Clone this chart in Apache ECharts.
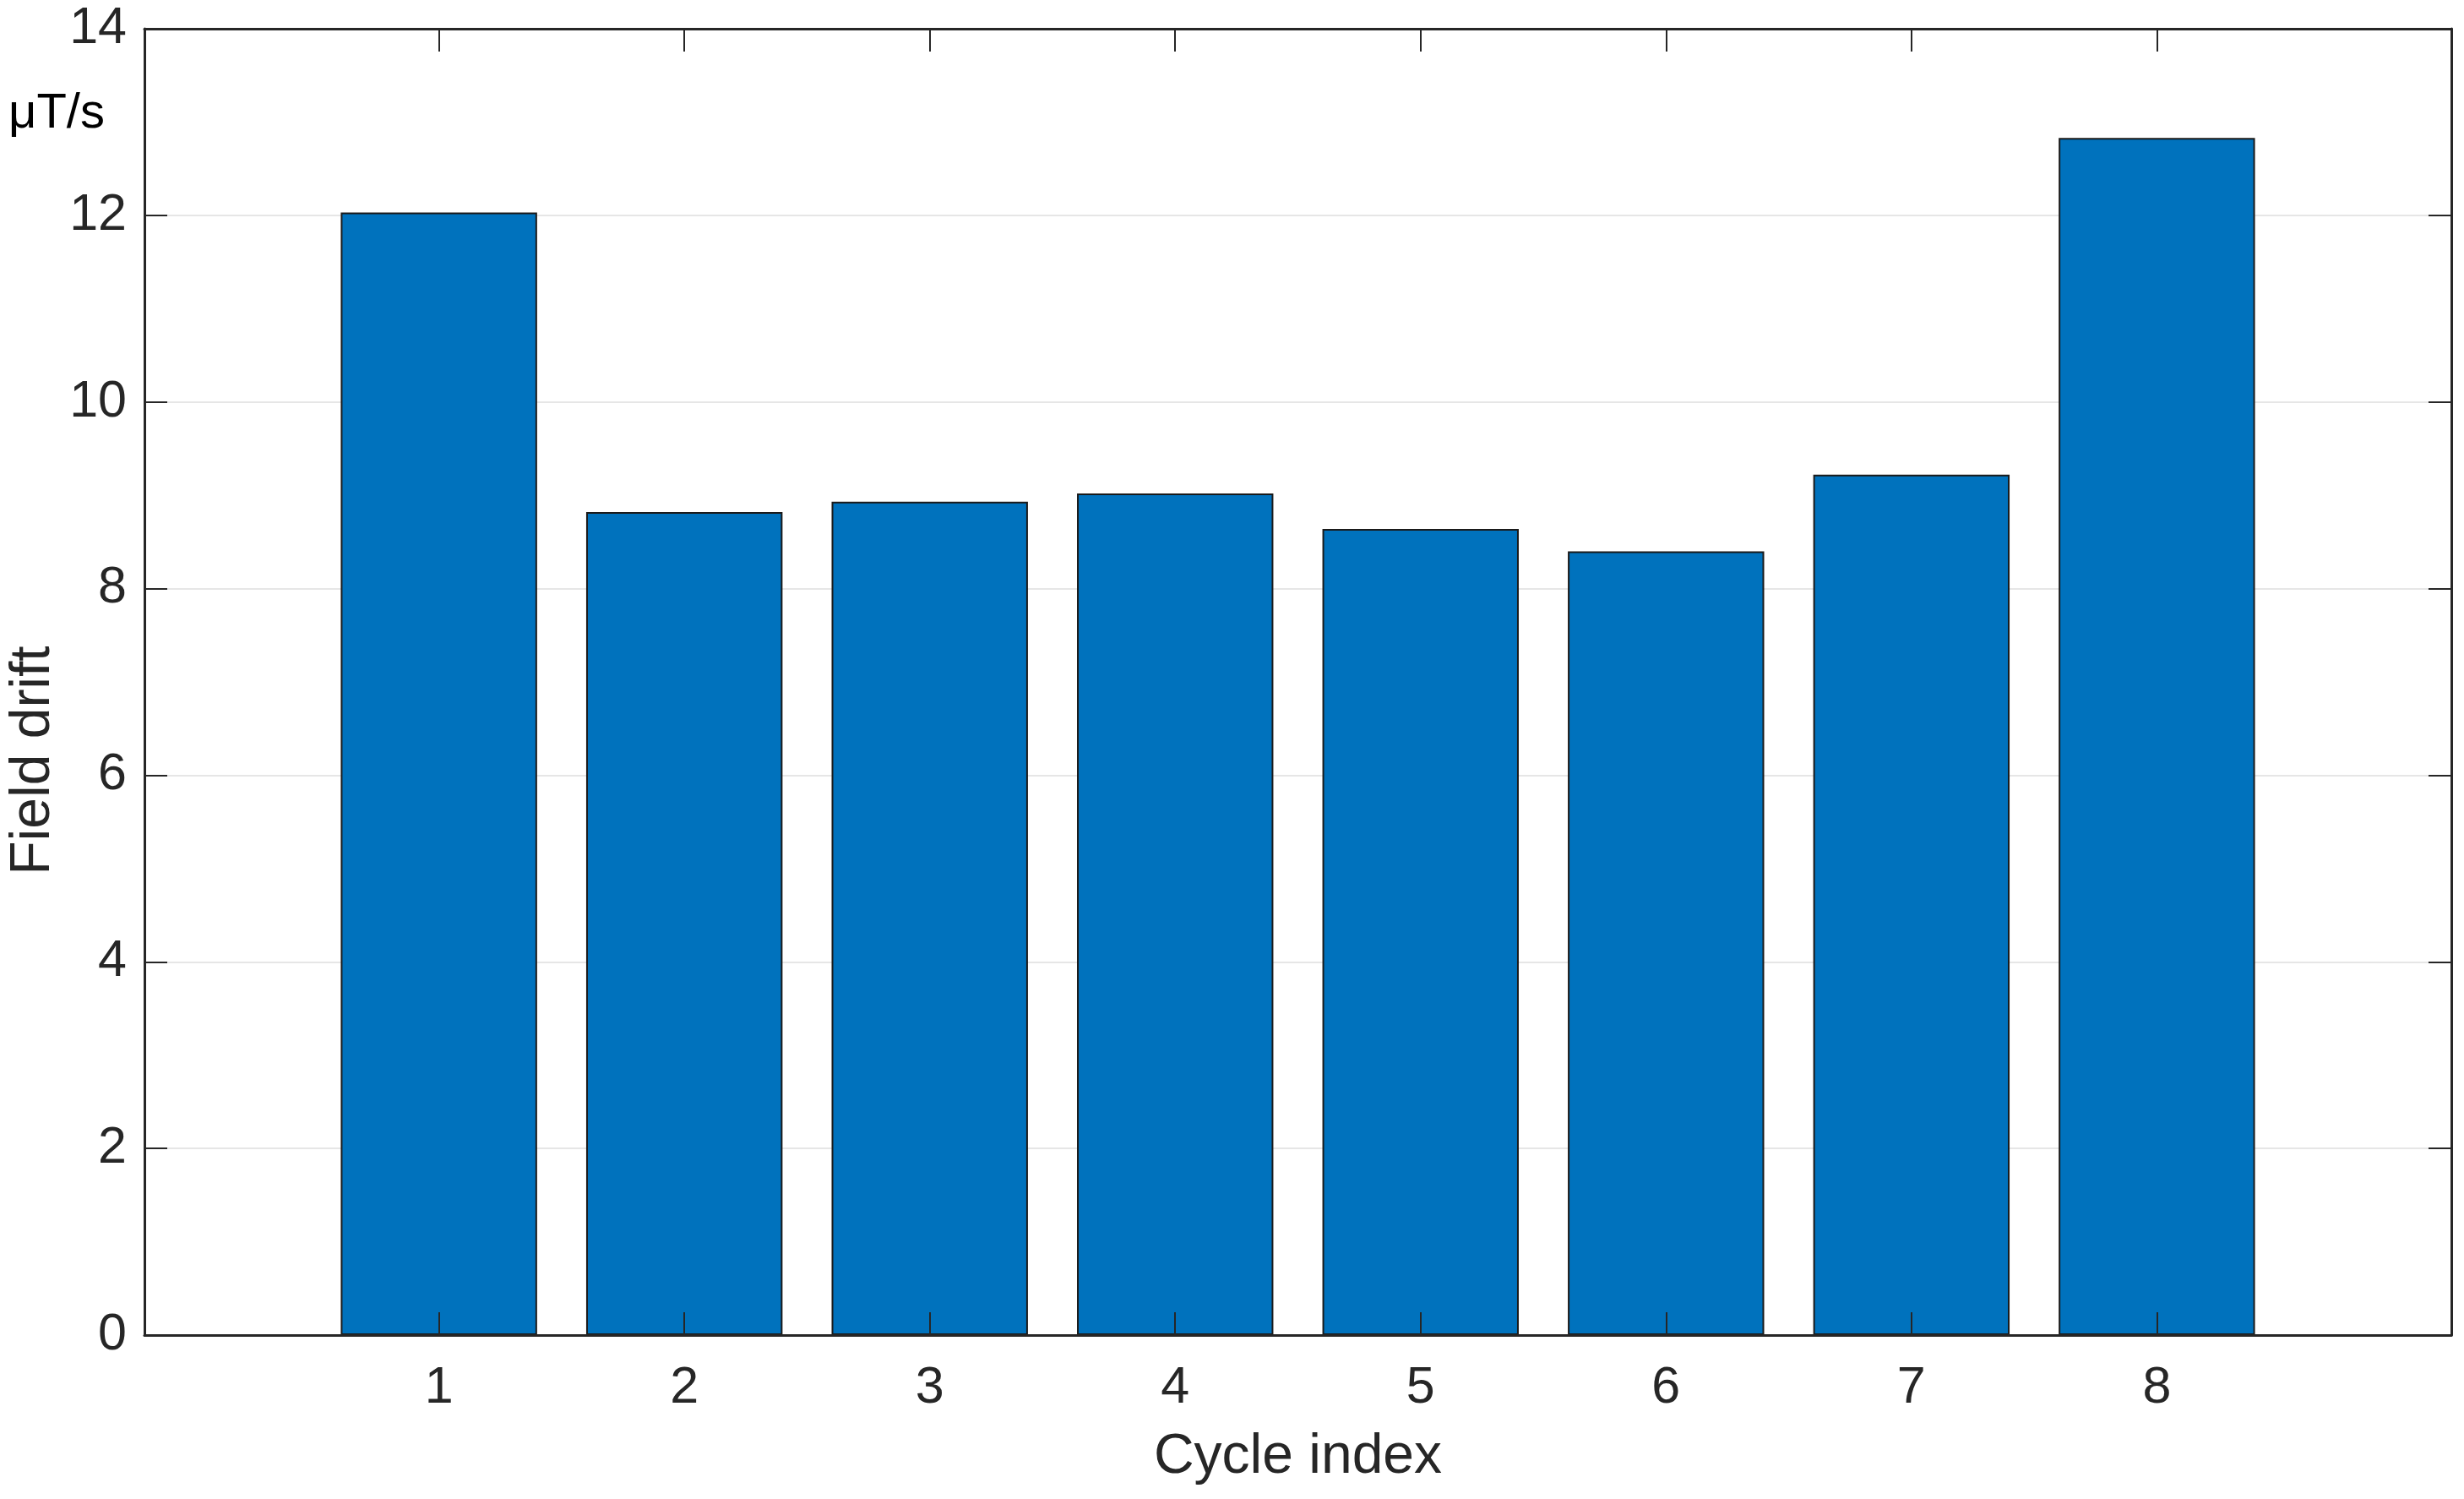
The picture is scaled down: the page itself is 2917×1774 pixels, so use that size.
<!DOCTYPE html>
<html>
<head>
<meta charset="utf-8">
<style>
html, body { margin: 0; padding: 0; background: #ffffff; }
#chart { width: 2917px; height: 1774px; }
</style>
<script src="https://cdn.jsdelivr.net/npm/echarts@6/dist/echarts.min.js"></script>
</head>
<body>
<div id="chart"></div>
<script>
// ---- data ----
const cycles = [1, 2, 3, 4, 5, 6, 7, 8];
const drift = [12.03, 8.82, 8.93, 9.02, 8.64, 8.40, 9.22, 12.83];
const xTicks = [1, 2, 3, 4, 5, 6, 7, 8];
const yTicks = [0, 2, 4, 6, 8, 10, 12, 14];
const xLabel = 'Cycle index';
const yLabel = 'Field drift';
const unitLabel = 'μT/s';

const FONT = '"Liberation Sans", Arial, Helvetica, sans-serif';
const INK = '#262626';

const chart = echarts.init(document.getElementById('chart'), null, { renderer: 'canvas' });

const barData = cycles.map((c, i) => [c, drift[i]]);

const tickCommon = {
  show: true,
  inside: true,
  length: 27,
  lineStyle: { color: INK, width: 2 }
};

const option = {
  backgroundColor: '#ffffff',
  animation: false,
  grid: { left: 171, right: 15, top: 34, bottom: 194, containLabel: false },
  xAxis: [
    {
      type: 'value',
      position: 'bottom',
      min: -0.2,
      max: 9.2,
      z: 10,
      name: xLabel,
      nameLocation: 'middle',
      nameGap: 112,
      nameTextStyle: { fontFamily: FONT, fontSize: 66, color: INK },
      axisLine: { show: true, onZero: false, lineStyle: { color: INK, width: 3 } },
      axisTick: Object.assign({ customValues: xTicks }, tickCommon),
      axisLabel: {
        customValues: xTicks,
        fontFamily: FONT, fontSize: 61, color: INK, margin: 33
      },
      splitLine: { show: false }
    },
    {
      type: 'value',
      position: 'top',
      min: -0.2,
      max: 9.2,
      z: 10,
      axisLine: { show: true, onZero: false, lineStyle: { color: INK, width: 3 } },
      axisTick: Object.assign({ customValues: xTicks }, tickCommon),
      axisLabel: { show: false },
      splitLine: { show: false }
    }
  ],
  yAxis: [
    {
      type: 'value',
      position: 'left',
      min: 0,
      max: 14,
      interval: 2,
      axisLine: { show: true, onZero: false, lineStyle: { color: INK, width: 3 } },
      axisTick: tickCommon,
      axisLabel: {
        fontFamily: FONT, fontSize: 61, color: INK, margin: 21,
        padding: [12, 0, 0, 0],
        formatter: v => (yTicks.indexOf(v) >= 0 ? String(v) : '')
      },
      splitLine: { show: true, lineStyle: { color: '#e6e6e6', width: 2 } }
    },
    {
      type: 'value',
      position: 'right',
      min: 0,
      max: 14,
      interval: 2,
      axisLine: { show: true, onZero: false, lineStyle: { color: INK, width: 3 } },
      axisTick: tickCommon,
      axisLabel: { show: false },
      splitLine: { show: false }
    }
  ],
  series: [
    {
      type: 'bar',
      xAxisIndex: 0,
      yAxisIndex: 0,
      data: barData,
      barWidth: '80%',
      itemStyle: { color: '#0072BD', borderColor: '#1a1a1a', borderWidth: 2 },
      z: 2
    }
  ],
  graphic: [
    {
      type: 'text',
      left: 10,
      top: 106,
      style: { text: unitLabel, fontFamily: FONT, fontSize: 58, fill: '#000000' }
    },
    {
      type: 'text',
      x: 40,
      y: 900,
      rotation: Math.PI / 2,
      style: {
        text: yLabel, fontFamily: FONT, fontSize: 66, fill: INK,
        align: 'center', verticalAlign: 'middle'
      }
    }
  ]
};

chart.setOption(option);
</script>
</body>
</html>
